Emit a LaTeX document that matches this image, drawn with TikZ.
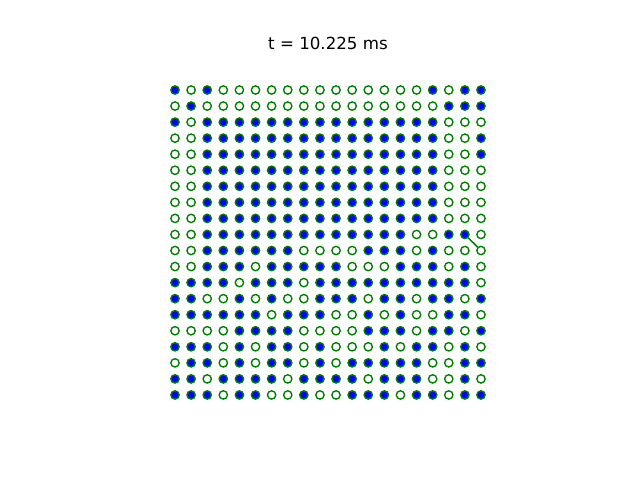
\documentclass[tikz,border=0pt]{standalone}
\usepackage{fontspec}
\setmainfont{DejaVu Sans}
\definecolor{mgreen}{HTML}{008000}
\begin{document}
\begin{tikzpicture}[x=0.75pt,y=-0.75pt,
  mk/.style={circle,inner sep=0pt,minimum size=6.25pt,draw=mgreen,line width=1.04pt},
  st0/.style={mk},
  st1/.style={mk,fill=blue},
  link/.style={draw=mgreen,line width=1.1pt}]
\useasboundingbox (0,0) rectangle (640,480);
\node[font=\fontsize{12.5}{15}\selectfont,inner sep=0pt] (title) at (328,43) {t = 10.225 ms};
\foreach \row [count=\r from 0] in {
{1,0,1,0,0,0,0,0,0,0,0,0,0,0,0,0,1,0,1,1},
{0,1,0,0,0,0,0,0,0,0,0,0,0,0,0,0,0,1,1,1},
{1,0,1,1,1,1,1,1,1,1,1,1,1,1,1,1,1,0,0,0},
{0,0,1,1,1,1,1,1,1,1,1,1,1,1,1,1,1,0,0,1},
{0,0,1,1,1,1,1,1,1,1,1,1,1,1,1,1,1,0,0,1},
{0,0,1,1,1,1,1,1,1,1,1,1,1,1,1,1,1,0,0,0},
{0,0,1,1,1,1,1,1,1,1,1,1,1,1,1,1,1,0,0,0},
{0,0,1,1,1,1,1,1,1,1,1,1,1,1,1,1,1,0,0,0},
{0,0,1,1,1,1,1,1,1,1,1,1,1,1,1,1,1,0,0,0},
{0,0,1,1,1,1,1,1,1,1,1,1,1,1,1,0,0,1,1,0},
{0,0,1,1,1,1,1,1,0,0,0,0,1,1,1,0,1,0,0,0},
{0,0,1,1,1,0,1,1,1,1,1,0,0,0,1,1,1,0,1,0},
{1,1,1,1,0,1,1,1,0,1,1,1,1,1,1,1,1,1,1,0},
{1,1,0,0,1,0,1,0,0,1,1,1,0,1,1,0,1,1,0,1},
{1,1,1,1,1,1,0,1,1,1,0,0,1,0,1,0,0,1,1,0},
{0,0,0,0,1,1,1,1,0,0,0,0,1,1,1,0,1,1,0,1},
{1,1,1,0,1,0,1,1,0,1,0,0,0,1,0,1,1,0,1,0},
{0,1,1,0,1,0,1,1,0,1,0,1,1,1,1,1,0,0,1,1},
{1,1,0,1,1,1,1,0,1,1,1,1,0,1,1,1,0,0,1,0},
{1,1,1,0,1,1,0,0,1,0,0,1,1,1,0,1,1,0,1,1}}{
  \foreach \v [count=\c from 0] in \row {
    \node[st\v] (n-\r-\c) at ({175+16.105*\c},{90+16.05*\r}) {};
  }
}
\draw[link] (n-9-18) -- (n-10-19);
\end{tikzpicture}
\end{document}
